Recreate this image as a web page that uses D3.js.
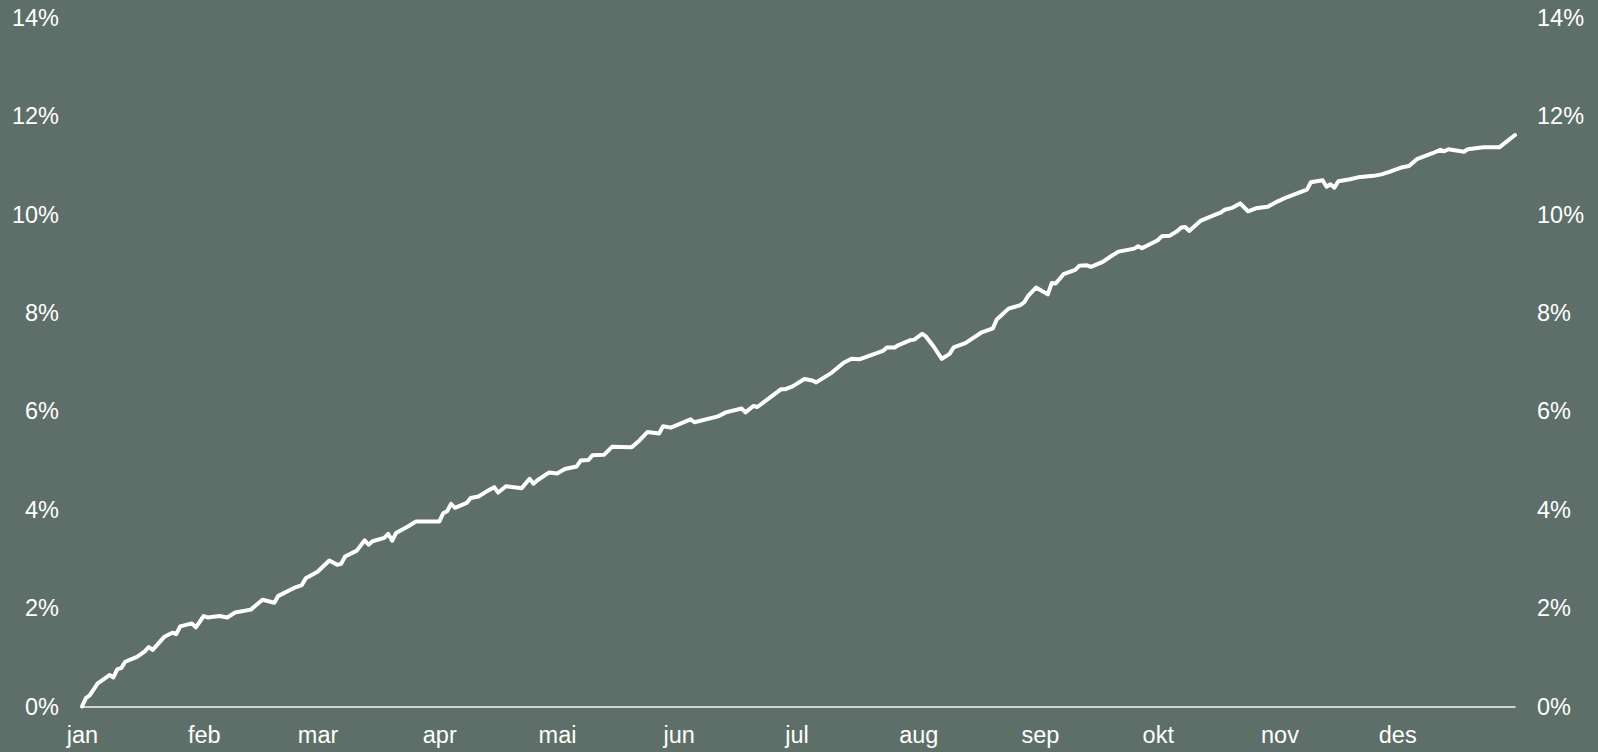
<!DOCTYPE html>
<html>
<head>
<meta charset="utf-8">
<script src="https://cdn.jsdelivr.net/npm/d3@7"></script>
<style>
  html, body { margin: 0; padding: 0; background: #5e6f69; }
  svg { display: block; }
  text { font-family: "Liberation Sans", Arial, sans-serif; }
</style>
</head>
<body>
<svg id="chart" width="1598" height="752"></svg>
<script>
// Day of year (0 = 1 January 2024) for each observation
const days = [0,1,2,4,7,8,9,10,11,14,16,17,18,21,23,24,25,28,29,31,32,35,37,39,43,46,49,50,54,56,57,60,63,65,66,67,70,72,73,74,77,78,79,80,83,85,91,92,93,94,95,98,99,101,103,105,106,108,112,114,115,116,119,121,123,126,127,129,130,133,135,140,142,144,147,148,150,155,156,162,164,168,169,171,172,178,179,181,184,186,187,191,194,196,198,204,205,207,208,211,212,214,215,217,219,221,222,225,229,232,233,236,239,240,241,243,246,247,248,250,253,254,256,257,260,262,264,268,269,270,272,274,275,277,279,280,281,282,285,289,290,291,293,295,297,299,302,304,307,309,312,313,316,317,318,319,320,323,325,329,331,333,336,338,340,344,346,347,348,352,353,357,361,365];
// Cumulative return (%)
const values = [0.00,0.17,0.23,0.47,0.64,0.59,0.76,0.78,0.91,1.01,1.12,1.21,1.15,1.42,1.50,1.47,1.63,1.69,1.61,1.84,1.81,1.84,1.81,1.91,1.97,2.17,2.11,2.25,2.41,2.47,2.61,2.74,2.97,2.88,2.90,3.05,3.17,3.38,3.29,3.36,3.43,3.51,3.37,3.53,3.66,3.76,3.76,3.93,3.97,4.12,4.04,4.14,4.24,4.27,4.37,4.46,4.35,4.48,4.44,4.63,4.53,4.60,4.76,4.74,4.83,4.88,5.00,5.01,5.11,5.12,5.28,5.27,5.41,5.58,5.55,5.70,5.67,5.84,5.78,5.90,5.98,6.06,5.98,6.11,6.09,6.45,6.45,6.51,6.66,6.63,6.59,6.79,6.99,7.07,7.06,7.23,7.30,7.30,7.35,7.45,7.46,7.58,7.52,7.31,7.07,7.17,7.30,7.39,7.60,7.69,7.87,8.09,8.16,8.22,8.35,8.52,8.38,8.61,8.60,8.79,8.88,8.96,8.97,8.94,9.04,9.15,9.25,9.31,9.36,9.32,9.40,9.48,9.56,9.57,9.67,9.74,9.75,9.67,9.88,10.01,10.04,10.10,10.14,10.23,10.07,10.13,10.16,10.25,10.36,10.42,10.51,10.66,10.70,10.57,10.62,10.55,10.68,10.72,10.76,10.79,10.82,10.87,10.96,10.99,11.13,11.25,11.32,11.29,11.33,11.28,11.33,11.37,11.37,11.62];
const monthLabels = ["jan","feb","mar","apr","mai","jun","jul","aug","sep","okt","nov","des"];
const yTicks = [0,2,4,6,8,10,12,14];

const year = 2024;
const data = days.map((d, i) => ({ date: new Date(year, 0, 1 + d), value: values[i] }));

const svg = d3.select("#chart");
const x = d3.scaleTime().domain([new Date(year,0,1), new Date(year,11,31)]).range([82, 1515]);
const y = d3.scaleLinear().domain([0,14]).range([706.5, 18]);

const textColor = "#ffffff";
const fontSize = "23.5px";

// Left axis
const gl = svg.append("g").attr("transform", "translate(82,0)")
  .call(d3.axisLeft(y).tickValues(yTicks).tickFormat(d => d + "%").tickSize(0).tickPadding(23));
gl.select(".domain").remove();
gl.selectAll("text").attr("fill", textColor).style("font-size", fontSize);

// Right axis
const gr = svg.append("g").attr("transform", "translate(1515,0)")
  .call(d3.axisRight(y).tickValues(yTicks).tickFormat(d => d + "%").tickSize(0).tickPadding(22));
gr.select(".domain").remove();
gr.selectAll("text").attr("fill", textColor).style("font-size", fontSize);

// Bottom axis (months)
const gb = svg.append("g").attr("transform", "translate(0," + y(0) + ")")
  .call(d3.axisBottom(x).ticks(d3.timeMonth.every(1)).tickFormat(d => monthLabels[d.getMonth()]).tickSize(0).tickPadding(20));
gb.select(".domain").attr("stroke", "#cfd3d1").attr("stroke-width", 2);
gb.selectAll("text").attr("fill", textColor).style("font-size", fontSize);

// Line
const line = d3.line().x(d => x(d.date)).y(d => y(d.value));
svg.append("path")
  .datum(data)
  .attr("d", line)
  .attr("fill", "none")
  .attr("stroke", "#ffffff")
  .attr("stroke-width", 4)
  .attr("stroke-linejoin", "round")
  .attr("stroke-linecap", "round");
</script>
</body>
</html>
